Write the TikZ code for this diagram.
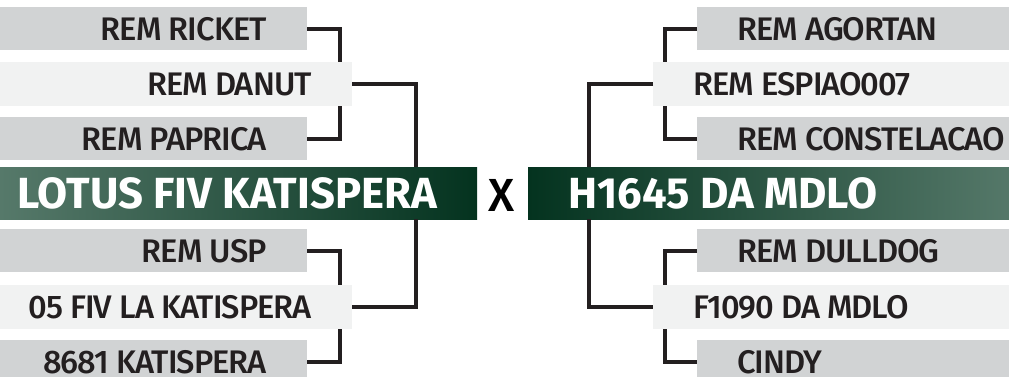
\documentclass[tikz,border=0pt]{standalone}
\usepackage{fontspec}
\setmainfont{Fira Sans}[UprightFont=* Medium, BoldFont=* Bold]
\newfontfamily\horsefont{Fira Sans}[UprightFont=* Medium, LetterSpace=-3]
\usetikzlibrary{positioning}
\definecolor{bargray}{HTML}{D1D3D4}
\definecolor{barlight}{HTML}{F1F2F2}
\definecolor{linkcol}{HTML}{231F20}
\definecolor{greendark}{HTML}{04331F}
\definecolor{greenlight}{HTML}{56796A}

\begin{document}
\begin{tikzpicture}[x=0.75pt,y=-0.75pt,
  grand/.style={fill=bargray, inner sep=0pt, outer sep=0pt, minimum height=32.25pt, anchor=north west},
  parent/.style={fill=barlight, inner sep=0pt, outer sep=0pt, minimum height=33pt, anchor=north west},
  champ/.style={inner sep=0pt, outer sep=0pt, minimum height=39pt, anchor=north west},
  horse/.style={font=\horsefont\fontsize{24.5}{26}\selectfont, text=linkcol, inner sep=0pt, text depth=0pt},
  champtext/.style={font=\bfseries\fontsize{32.7}{34}\selectfont, text=white, inner sep=0pt, text depth=0pt},
  link/.style={draw=linkcol, line width=3pt}]
  \useasboundingbox (0,0) rectangle (1009,376);

  % Left pedigree
  \node[grand, minimum width=230.25pt] (ricket) at (0,7) {};
  \node[parent, minimum width=264pt] (danut) at (0,62) {};
  \node[grand, minimum width=230.25pt] (paprica) at (0,117) {};
  \node[champ, minimum width=357.75pt, left color=greenlight, middle color=greendark, right color=greendark] (lotus) at (0,167) {};
  \node[grand, minimum width=230.25pt] (usp) at (0,229) {};
  \node[parent, minimum width=264pt] (fivla) at (0,285) {};
  \node[grand, minimum width=230.25pt] (k8681) at (0,340) {};

  \node[horse, anchor=east] (ricketname) at ([xshift=-30pt]ricket.east) {REM RICKET};
  \node[horse, anchor=east] (danutname) at ([xshift=-30pt]danut.east) {REM DANUT};
  \node[horse, anchor=east] (papricaname) at ([xshift=-30pt]paprica.east) {REM PAPRICA};
  \node[champtext, anchor=east] (lotusname) at ([xshift=-30pt]lotus.east) {LOTUS FIV KATISPERA};
  \node[horse, anchor=east] (uspname) at ([xshift=-30pt]usp.east) {REM USP};
  \node[horse, anchor=east] (fivlaname) at ([xshift=-30pt]fivla.east) {05 FIV LA KATISPERA};
  \node[horse, anchor=east] (k8681name) at ([xshift=-30pt]k8681.east) {8681 KATISPERA};

  \draw[link] (ricket.east) -| ([xshift=-9pt]danut.north east);
  \draw[link] ([xshift=-9pt]danut.south east) |- (paprica.east);
  \draw[link] (danut.east) -| ([xshift=-45.75pt]lotus.north east);
  \draw[link] ([xshift=-45.75pt]lotus.south east) |- (fivla.east);
  \draw[link] (usp.east) -| ([xshift=-9pt]fivla.north east);
  \draw[link] ([xshift=-9pt]fivla.south east) |- (k8681.east);

  % Versus
  \node[font=\fontsize{34.8}{36}\selectfont, text=black, inner sep=0pt] (vs) at (502,195) {X};

  % Right pedigree
  \node[grand, minimum width=240pt] (agortan) at (697,7) {};
  \node[parent, minimum width=273pt] (espiao) at (653,62) {};
  \node[grand, minimum width=240pt] (constel) at (697,117) {};
  \node[champ, minimum width=367.5pt, left color=greendark, middle color=greendark, right color=greenlight] (h1645) at (528,167) {};
  \node[grand, minimum width=240pt] (dulldog) at (697,229) {};
  \node[parent, minimum width=273pt] (f1090) at (653,285) {};
  \node[grand, minimum width=240pt] (cindy) at (697,340) {};

  \node[horse, anchor=west] (agortanname) at ([xshift=30pt]agortan.west) {REM AGORTAN};
  \node[horse, anchor=west] (espiaoname) at ([xshift=30pt]espiao.west) {REM ESPIAO007};
  \node[horse, anchor=west] (constelname) at ([xshift=30pt]constel.west) {REM CONSTELACAO};
  \node[champtext, anchor=west] (h1645name) at ([xshift=30pt]h1645.west) {H1645 DA MDLO};
  \node[horse, anchor=west] (dulldogname) at ([xshift=30pt]dulldog.west) {REM DULLDOG};
  \node[horse, anchor=west] (f1090name) at ([xshift=30pt]f1090.west) {F1090 DA MDLO};
  \node[horse, anchor=west] (cindyname) at ([xshift=30pt]cindy.west) {CINDY};

  \draw[link] (agortan.west) -| ([xshift=9pt]espiao.north west);
  \draw[link] ([xshift=9pt]espiao.south west) |- (constel.west);
  \draw[link] (espiao.west) -| ([xshift=45.75pt]h1645.north west);
  \draw[link] ([xshift=45.75pt]h1645.south west) |- (f1090.west);
  \draw[link] (dulldog.west) -| ([xshift=9pt]f1090.north west);
  \draw[link] ([xshift=9pt]f1090.south west) |- (cindy.west);
\end{tikzpicture}
\end{document}
